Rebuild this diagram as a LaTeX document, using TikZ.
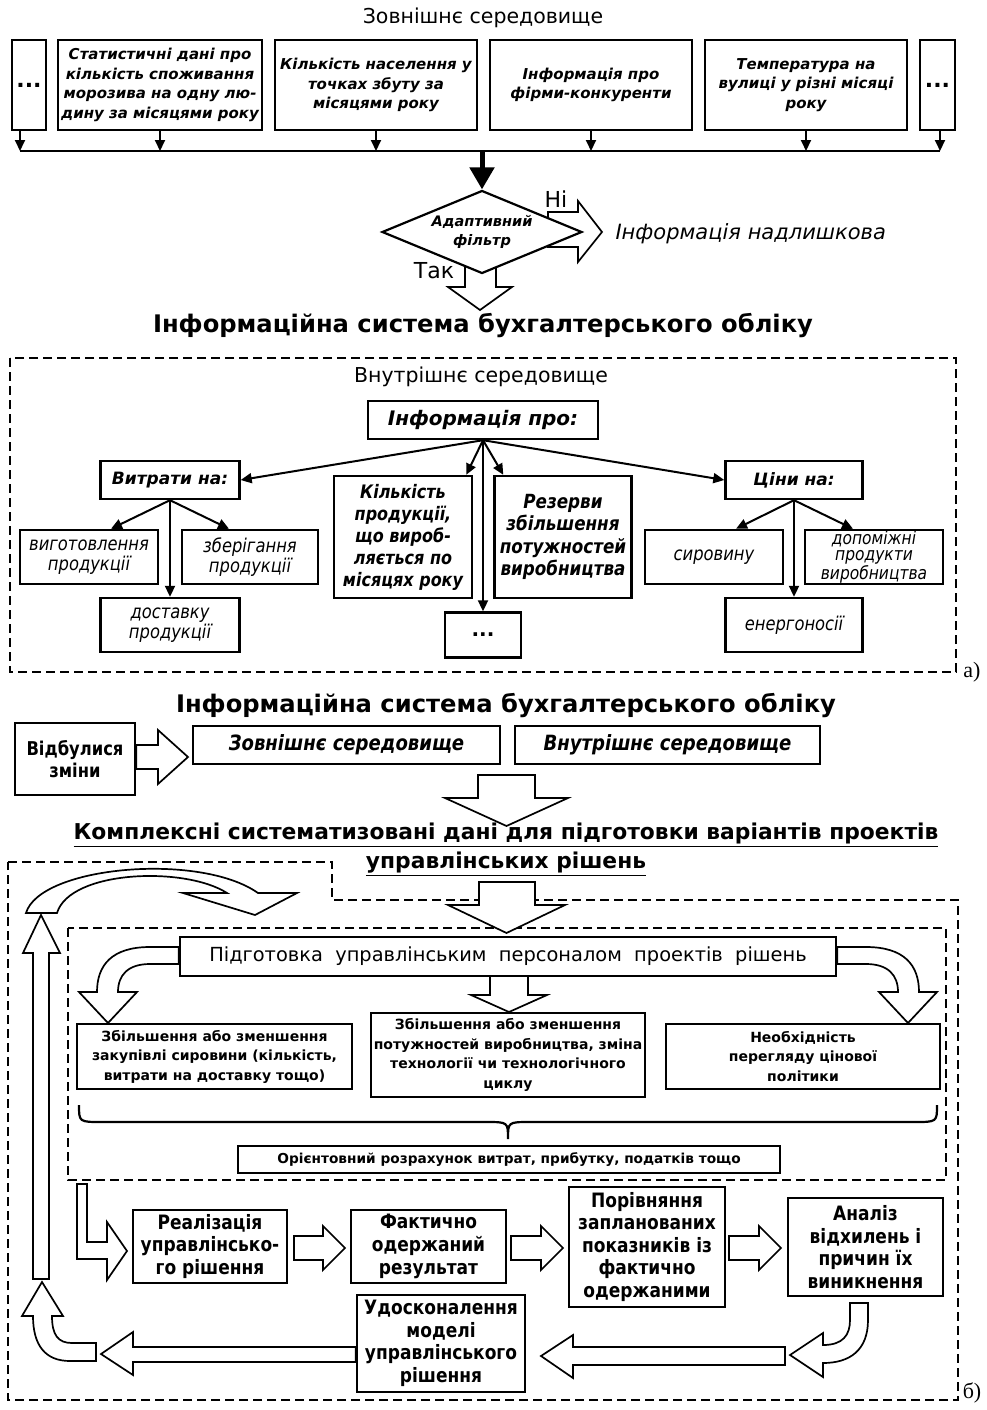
\documentclass[tikz,border=0pt]{standalone}
\usepackage{fontspec}
\setmainfont{DejaVu Sans}
\newfontfamily\narrow[FakeStretch=0.86]{DejaVu Sans}
\newfontfamily\serif{Liberation Serif}
\usetikzlibrary{shapes.geometric,arrows.meta,calc}
\newcommand{\fs}[2]{\fontsize{#1}{#2}\selectfont}
% block arrow to the right: start x, mid y, length
\newcommand{\rblock}[3]{%
  \draw[hollow] (#1,#2-12) -- ++(#3-22,0) -- ++(0,-10) -- ++(22,22) -- ++(-22,22) -- ++(0,-10) -- (#1,#2+12) -- cycle;}

\begin{document}
\begin{tikzpicture}
  [x=1pt,y=-1pt,
   src/.style={draw,line width=2.4pt,fill=white,align=center,inner sep=0pt,font=\bfseries\itshape\fs{15}{19.5}},
   box/.style={draw,line width=2.4pt,fill=white,align=center,inner sep=0pt},
   hollow/.style={draw,fill=white,line width=1.7pt,line join=miter},
   arr/.style={line width=2pt,-{Triangle[width=10pt,length=11pt]}},
   frame/.style={dashed,dash pattern=on 9pt off 5pt,line width=1.5pt}]
  \useasboundingbox (0,0) rectangle (987,1410);

  % ---- a) external environment
  \node[font=\fs{20.5}{24}] (ext) at (483,18) {Зовнішнє середовище};
  \node[src,minimum width=34,minimum height=90,font=\bfseries\fs{22}{24}] (d1) at (29,85) {...};
  \node[src,minimum width=204,minimum height=90] (s1) at (160,85) {Статистичні дані про\\кількість споживання\\морозива на одну лю-\\дину за місяцями року};
  \node[src,minimum width=202,minimum height=90] (s2) at (376,85) {Кількість населення у\\точках збуту за\\місяцями року};
  \node[src,minimum width=202,minimum height=90] (s3) at (591,85) {Інформація про\\фірми-конкуренти};
  \node[src,minimum width=202,minimum height=90] (s4) at (806,85) {Температура на\\вулиці у різні місяці\\року};
  \node[src,minimum width=35,minimum height=90,font=\bfseries\fs{22}{24}] (d2) at (937.5,85) {...};
  \coordinate (busL) at (20,151);
  \coordinate (busR) at (940,151);
  \draw[line width=2.4pt] (busL) -- (busR);
  \draw[arr] (d1.south -| busL) -- (busL);
  \foreach \s in {s1,s2,s3,s4}
    \draw[arr] (\s.south) -- (\s.south |- busL);
  \draw[arr] (d2.south -| busR) -- (busR);

  % filter
  \draw[hollow] (548,212) -- (578,212) -- (578,201) -- (602,232) -- (578,262) -- (578,247) -- (548,247) -- cycle;
  \draw[hollow] (465,258) -- (465,287) -- (448,287) -- (480,310) -- (512,287) -- (496,287) -- (496,258) -- cycle;
  \node[diamond,draw,line width=2.2pt,fill=white,inner sep=0pt,aspect=2.4,minimum width=200,minimum height=83,align=center,font=\bfseries\itshape\fs{14.5}{19}] (filt) at (482,232) {Адаптивний\\фільтр};
  \draw[line width=5pt,-{Triangle[width=24pt,length=22pt]}] (filt.north |- busL) -- (filt.north);
  \node[font=\fs{22}{24}] (no) at (556,199) {Ні};
  \node[font=\fs{22}{24}] (yes) at (434,271) {Так};
  \node[font=\itshape\fs{21}{24},anchor=west] (extra) at (612,234) {Інформація надлишкова};

  \node[font=\bfseries\fs{24.2}{26}] (ias1) at (483,326) {Інформаційна система бухгалтерського обліку};

  % internal environment
  \draw[frame] (10,358) rectangle (956,672);
  \node[font=\fs{20.5}{24}] (int) at (481,377) {Внутрішнє середовище};
  \node[box,minimum width=230,minimum height=38,font=\bfseries\itshape\fs{20}{22}] (info) at (483,420) {Інформація про:};
  \node[box,minimum width=139,minimum height=38,font=\bfseries\itshape\fs{17}{20}] (vit) at (170,480) {Витрати на:};
  \node[box,minimum width=137,minimum height=38,font=\bfseries\itshape\fs{17}{20}] (cin) at (794,480) {Ціни на:};
  \node[box,minimum width=138,minimum height=122,font=\narrow\bfseries\itshape\fs{18.6}{22}] (kil) at (403,537) {Кількість\\продукції,\\що вироб-\\ляється по\\місяцях року};
  \node[box,minimum width=137,minimum height=122,font=\narrow\bfseries\itshape\fs{19.5}{22.5}] (rez) at (563,537) {Резерви\\збільшення\\потужностей\\виробництва};
  \node[box,minimum width=76,minimum height=45,font=\bfseries\fs{20}{22}] (dots) at (483,635) {...};
  \node[box,minimum width=138,minimum height=54,font=\narrow\itshape\fs{19}{20}] (vyg) at (89,557) {виготовлення\\продукції};
  \node[box,minimum width=136,minimum height=54,font=\narrow\itshape\fs{19}{20}] (zber) at (250,557) {зберігання\\продукції};
  \node[box,minimum width=139,minimum height=54,font=\narrow\itshape\fs{19}{20}] (dost) at (170,625) {доставку\\продукції};
  \node[box,minimum width=138,minimum height=54,font=\narrow\itshape\fs{19}{20}] (syr) at (714,557) {сировину};
  \node[box,minimum width=138,minimum height=54,font=\narrow\itshape\fs{18}{16.5}] (dop) at (874,557) {допоміжні\\продукти\\виробництва};
  \node[box,minimum width=137,minimum height=54,font=\narrow\itshape\fs{19}{20}] (energ) at (794,625) {енергоносії};
  \draw[arr] (info.south) -- (vit.east);
  \draw[arr] (info.south) -- ($(kil.north east)+(-7,0)$);
  \draw[arr] (info.south) -- (dots.north);
  \draw[arr] (info.south) -- ($(rez.north west)+(10,0)$);
  \draw[arr] (info.south) -- (cin.west);
  \draw[arr] (vit.south) -- ($(vyg.north)+(22,0)$);
  \draw[arr] (vit.south) -- ($(zber.north)+(-21,0)$);
  \draw[arr] (vit.south) -- (dost.north);
  \draw[arr] (cin.south) -- ($(syr.north)+(22,0)$);
  \draw[arr] (cin.south) -- ($(dop.north)+(-21,0)$);
  \draw[arr] (cin.south) -- (energ.north);
  \node[font=\serif\fs{22}{24}] (la) at (972,672) {а)};

  % ---- b)
  \node[font=\bfseries\fs{24.2}{26}] (ias2) at (506,706) {Інформаційна система бухгалтерського обліку};
  \node[box,minimum width=120,minimum height=72,font=\narrow\bfseries\fs{19}{22}] (chg) at (75,759) {Відбулися\\зміни};
  \draw[hollow] (chg.east |- 0,745) -- (158,745) -- (158,730) -- (188,757) -- (158,784) -- (158,769) -- (chg.east |- 0,769) -- cycle;
  \node[box,minimum width=307,minimum height=38,font=\narrow\bfseries\itshape\fs{21}{22}] (zovn) at (346.5,745) {Зовнішнє середовище};
  \node[box,minimum width=305,minimum height=38,font=\narrow\bfseries\itshape\fs{21}{22}] (vnut) at (667.5,745) {Внутрішнє середовище};
  \draw[hollow] (478,775) -- (478,798) -- (445,798) -- (506.5,826) -- (568,798) -- (535,798) -- (535,775) -- cycle;
  \node[font=\bfseries\fs{21.8}{29},align=center] (data) at (506,849.5) {\underline{Комплексні систематизовані дані для підготовки варіантів проектів}\\\underline{управлінських рішень}};

  \draw[frame] (8,862) -- (332,862) -- (332,900) -- (958,900) -- (958,1400) -- (8,1400) -- cycle;
  \draw[frame] (68,928) rectangle (946,1180);
  \draw[hollow] (479,882) -- (479,905) -- (448,905) -- (506.5,933) -- (565,905) -- (535,905) -- (535,882) -- cycle;

  \node[box,minimum width=656,minimum height=39,font=\fs{19.4}{24}] (prep) at (508,956.5) {Підготовка\ \ управлінським\ \ персоналом\ \ проектів\ \ рішень};
  \draw[hollow] (prep.west |- 0,947) -- (150,947) .. controls (112,947) and (97,965) .. (97,992) -- (79,992) -- (108,1023) -- (137,992) -- (118,992) .. controls (118,975) and (128,964) .. (150,964) -- (prep.west |- 0,964) -- cycle;
  \draw[hollow] (prep.east |- 0,947) -- (866,947) .. controls (904,947) and (919,965) .. (919,992) -- (937,992) -- (908,1023) -- (879,992) -- (898,992) .. controls (898,975) and (888,964) .. (866,964) -- (prep.east |- 0,964) -- cycle;
  \node[box,minimum width=275,minimum height=65,font=\bfseries\fs{14}{19.5}] (zb1) at (214.5,1056.5) {Збільшення або зменшення\\закупівлі сировини (кількість,\\витрати на доставку тощо)};
  \node[box,minimum width=274,minimum height=84,font=\bfseries\fs{14}{19.5}] (zb2) at (508,1055) {Збільшення або зменшення\\потужностей виробництва, зміна\\технології чи технологічного\\циклу};
  \node[box,minimum width=274,minimum height=65,font=\bfseries\fs{14}{19.5}] (zb3) at (803,1056.5) {Необхідність\\перегляду цінової\\політики};
  \draw[hollow] (490,976) -- (490,995) -- (471,995) -- (509,1012) -- (547,995) -- (528,995) -- (528,976) -- cycle;
  % brace
  \draw[line width=2.2pt] (79,1105) .. controls (79,1122) .. (102,1122) -- (486,1122) .. controls (508,1122) .. (508,1139) .. controls (508,1122) .. (530,1122) -- (914,1122) .. controls (937,1122) .. (937,1105);
  \node[box,minimum width=542,minimum height=27,font=\bfseries\fs{13.7}{18}] (orient) at (509,1159.5) {Орієнтовний\ розрахунок\ витрат,\ прибутку,\ податків\ тощо};

  % cycle
  \node[box,minimum width=154,minimum height=73,font=\narrow\bfseries\fs{19.8}{22.8}] (real) at (210,1246.5) {Реалізація\\управлінсько-\\го рішення};
  \node[box,minimum width=155,minimum height=73,font=\narrow\bfseries\fs{19.8}{22.8}] (fact) at (428.5,1246.5) {Фактично\\одержаний\\результат};
  \node[box,minimum width=156,minimum height=120,font=\narrow\bfseries\fs{19.8}{22.5}] (por) at (647,1247) {Порівняння\\запланованих\\показників із\\фактично\\одержаними};
  \node[box,minimum width=155,minimum height=98,font=\narrow\bfseries\fs{19.8}{22.5}] (anal) at (865.5,1247) {Аналіз\\відхилень і\\причин їх\\виникнення};
  \node[box,minimum width=168,minimum height=97,font=\narrow\bfseries\fs{19.8}{22.5}] (udos) at (441,1343.5) {Удосконалення\\моделі\\управлінського\\рішення};
  \draw[hollow] (77,1184) -- (87,1184) -- (87,1242) -- (107,1242) -- (107,1222) -- (127,1251) -- (107,1280) -- (107,1259) -- (77,1259) -- cycle;
  \rblock{294}{1248}{51}
  \rblock{511}{1248}{52}
  \rblock{729}{1248}{52}
  \draw[hollow] (850,1303) -- (868,1303) -- (868,1320) .. controls (868,1350) and (850,1363) .. (823,1363) -- (823,1377) -- (790,1355) -- (823,1333) -- (823,1345) .. controls (843,1345) and (850,1335) .. (850,1320) -- cycle;
  \draw[hollow] (785,1347) -- (573,1347) -- (573,1335) -- (541,1356) -- (573,1378) -- (573,1365) -- (785,1365) -- cycle;
  \draw[hollow] (udos.west |- 0,1347) -- (133,1347) -- (133,1332) -- (101,1354) -- (133,1375) -- (133,1362) -- (udos.west |- 0,1362) -- cycle;
  \draw[hollow] (96,1343) -- (96,1361) -- (70,1361) .. controls (45,1361) and (33,1345) .. (33,1316) -- (22,1316) -- (42,1282) -- (63,1316) -- (52,1316) .. controls (52,1335) and (58,1343) .. (72,1343) -- cycle;
  \draw[hollow] (33,1279) -- (33,953) -- (23,953) -- (41,915) -- (60,953) -- (49,953) -- (49,1279) -- cycle;
  \draw[hollow] (26,913) .. controls (40,866) and (200,852) .. (258,893) -- (297,893) -- (255,915) -- (183,893) -- (227,893) .. controls (185,866) and (70,870) .. (57,913) -- cycle;
  \node[font=\serif\fs{22}{24}] (lb) at (972,1393) {б)};
\end{tikzpicture}
\end{document}
